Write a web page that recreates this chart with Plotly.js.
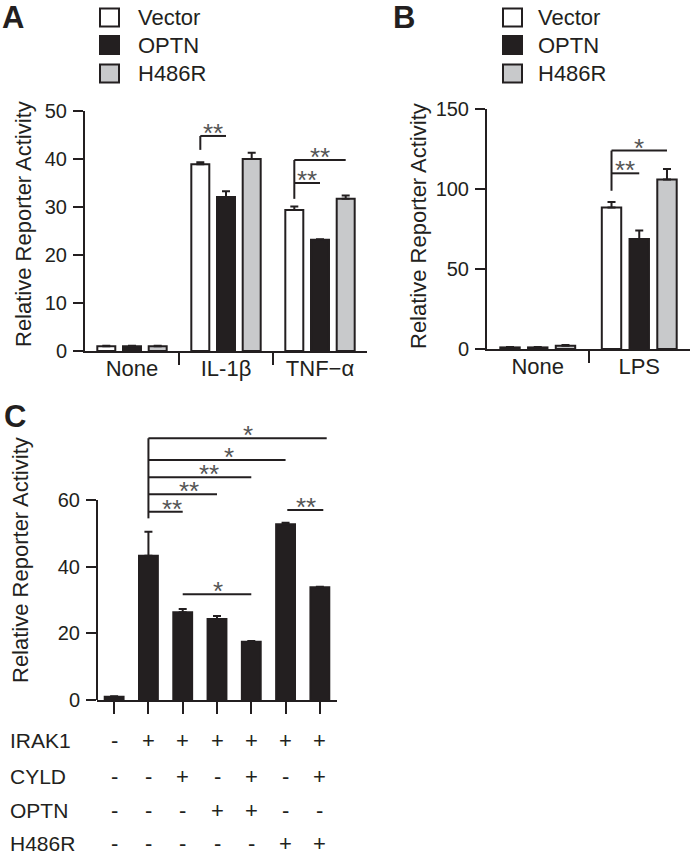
<!DOCTYPE html>
<html>
<head>
<meta charset="utf-8">
<script src="https://cdn.plot.ly/plotly-3.0.1.min.js"></script>
<style>
  body { margin: 0; background: #fff; }
  #chart { width: 693px; height: 858px; }
</style>
</head>
<body>
<div id="chart"></div>
<script>
// series shared by A and B
const seriesNames = ['Vector', 'OPTN', 'H486R'];
const seriesColors = ['#ffffff', '#231f20', '#c8c9cb'];

// panel A
const categoriesA = ['None', 'IL-1β', 'TNF−α'];
const vectorA = [1, 38.9, 29.4];
const vectorAErr = [0.1, 0.4, 0.7];
const optnA = [1, 32.1, 23.2];
const optnAErr = [0.1, 1.2, 0.1];
const h486rA = [1, 40.0, 31.7];
const h486rAErr = [0.1, 1.3, 0.7];

// panel B
const categoriesB = ['None', 'LPS'];
const vectorB = [1, 88.5];
const vectorBErr = [0.2, 3.4];
const optnB = [1, 68.7];
const optnBErr = [0.2, 5.3];
const h486rB = [2, 106];
const h486rBErr = [0.5, 6.5];

// panel C
const valuesC = [1, 43.3, 26.3, 24.3, 17.5, 52.7, 33.8];
const errC = [0.1, 7.2, 1.0, 0.9, 0.2, 0.5, 0.2];
const rowLabelsC = ['IRAK1', 'CYLD', 'OPTN', 'H486R'];
const irak1 = ['-', '+', '+', '+', '+', '+', '+'];
const cyld = ['-', '-', '+', '-', '+', '-', '+'];
const optn = ['-', '-', '-', '+', '+', '-', '-'];
const h486r = ['-', '-', '-', '-', '-', '+', '+'];

// significance brackets: [category, fromBar, toBar, y, label]
const sigA = [[1, 0, 1, 44.8, '**'], [2, 0, 1, 35, '**'], [2, 0, 2, 39.8, '**']];
// stems: [category, bar, yBottom, yTop]
const stemA = [[1, 0, 41.9, 44.8], [2, 0, 31.7, 39.8]];
const sigB = [[1, 0, 1, 109.8, '**'], [1, 0, 2, 124, '*']];
const stemB = [[1, 0, 98.9, 124]];
// panel C: [fromBar, toBar, y, label, labelX]
const sigC = [
  [1, 2, 56.5, '**', 1.69], [1, 3, 61.7, '**', 2.18], [1, 4, 66.8, '**', 2.77],
  [1, 5, 72, '*', 3.35], [1, 6.2, 78.5, '*', 3.91],
  [2, 4, 31.7, '*', 3.03], [5.05, 6.1, 57, '**', 5.6]
];
const stemC = [[1, 54.5, 78.5]];

const dark = '#231f20';
const font = 'Liberation Sans, Arial, sans-serif';
const W = 693, H = 858;
const px = v => v / W;
const py = v => 1 - v / H;

const bargap = 0.18;
const slot = (1 - bargap) / 3;
const barX = (cat, i) => cat + (i - 1) * slot;

function errBar(arr) {
  return {type: 'data', array: arr, arrayminus: arr.map(() => 0), symmetric: false,
    color: dark, thickness: 2, width: 4};
}

const data = [];
const seriesA = [[vectorA, vectorAErr], [optnA, optnAErr], [h486rA, h486rAErr]];
const seriesB = [[vectorB, vectorBErr], [optnB, optnBErr], [h486rB, h486rBErr]];
seriesA.forEach((s, i) => {
  data.push({
    type: 'bar', x: categoriesA.map((c, k) => k), y: s[0], name: seriesNames[i],
    marker: {color: seriesColors[i], line: {color: dark, width: 2}},
    error_y: errBar(s[1]), xaxis: 'x', yaxis: 'y', showlegend: false
  });
});
seriesB.forEach((s, i) => {
  data.push({
    type: 'bar', x: categoriesB.map((c, k) => k), y: s[0], name: seriesNames[i],
    marker: {color: seriesColors[i], line: {color: dark, width: 2}},
    error_y: errBar(s[1]), xaxis: 'x2', yaxis: 'y2', showlegend: false
  });
});
data.push({
  type: 'bar', x: valuesC.map((v, k) => k), y: valuesC, width: 0.55,
  marker: {color: dark, line: {color: dark, width: 2}},
  error_y: errBar(errC), xaxis: 'x3', yaxis: 'y3', showlegend: false
});

const shapes = [];
const annotations = [];
const lineStyle = {color: dark, width: 2};
const starFont = {family: font, size: 26, color: '#555'};
const starShift = -14;

function addSig(list, stems, xr, yr) {
  list.forEach(s => {
    const x0 = barX(s[0], s[1]), x1 = barX(s[0], s[2]);
    shapes.push({type: 'line', xref: xr, yref: yr, x0: x0, x1: x1, y0: s[3], y1: s[3], line: lineStyle});
    annotations.push({xref: xr, yref: yr, x: (x0 + x1) / 2, y: s[3], text: s[4], showarrow: false,
      yanchor: 'bottom', yshift: starShift, font: starFont});
  });
  stems.forEach(s => {
    const x = barX(s[0], s[1]);
    shapes.push({type: 'line', xref: xr, yref: yr, x0: x, x1: x, y0: s[2], y1: s[3], line: lineStyle});
  });
}
addSig(sigA, stemA, 'x', 'y');
addSig(sigB, stemB, 'x2', 'y2');
sigC.forEach(s => {
  shapes.push({type: 'line', xref: 'x3', yref: 'y3', x0: s[0], x1: s[1], y0: s[2], y1: s[2], line: lineStyle});
  annotations.push({xref: 'x3', yref: 'y3', x: s[4], y: s[2], text: s[3], showarrow: false,
    yanchor: 'bottom', yshift: starShift, font: starFont});
});
stemC.forEach(s => {
  shapes.push({type: 'line', xref: 'x3', yref: 'y3', x0: s[0], x1: s[0], y0: s[1], y1: s[2], line: lineStyle});
});
// y axis line of C stops at 60
shapes.push({type: 'line', xref: 'x3 domain', yref: 'y3', x0: 0, x1: 0, y0: 0, y1: 60, line: lineStyle});

// legends
const legendRows = [17.5, 45, 73.5];
[[100, 136], [503, 536]].forEach(pos => {
  seriesNames.forEach((n, i) => {
    shapes.push({type: 'rect', xref: 'paper', yref: 'paper',
      x0: px(pos[0]), x1: px(pos[0] + 19), y0: py(legendRows[i] - 9), y1: py(legendRows[i] + 9),
      fillcolor: seriesColors[i], line: {color: dark, width: 2}});
    annotations.push({xref: 'paper', yref: 'paper', x: px(pos[1]), y: py(legendRows[i]),
      xanchor: 'left', yanchor: 'middle', text: n, showarrow: false,
      font: {family: font, size: 22, color: dark}});
  });
});

// panel letters
[['A', 13, 18], ['B', 404, 17], ['C', 15, 416]].forEach(l => {
  annotations.push({xref: 'paper', yref: 'paper', x: px(l[1]), y: py(l[2]), text: '<b>' + l[0] + '</b>',
    showarrow: false, xanchor: 'center', yanchor: 'middle', font: {family: font, size: 31, color: dark}});
});

// y axis titles
const yTitle = 'Relative Reporter Activity';
[[23, 224], [418, 226], [20, 560]].forEach(t => {
  annotations.push({xref: 'paper', yref: 'paper', x: px(t[0]), y: py(t[1]), text: yTitle, textangle: -90,
    showarrow: false, xanchor: 'center', yanchor: 'middle', font: {family: font, size: 22, color: dark}});
});

// condition table under C
const rowY = [740, 776, 810, 843];
[irak1, cyld, optn, h486r].forEach((row, r) => {
  annotations.push({xref: 'paper', yref: 'paper', x: px(8), y: py(rowY[r]), xanchor: 'left', yanchor: 'middle',
    text: rowLabelsC[r], showarrow: false, font: {family: font, size: 21, color: dark}});
  row.forEach((sgn, k) => {
    annotations.push({xref: 'x3', yref: 'paper', x: k, y: py(rowY[r]), xanchor: 'center', yanchor: 'middle',
      text: sgn, showarrow: false, font: {family: font, size: 22, color: dark}});
  });
});

function yAxis(domain, range, dtick, extra) {
  return Object.assign({
    domain: domain, range: range, dtick: dtick, ticks: 'outside', ticklen: 10, tickwidth: 2,
    tickcolor: dark, showline: true, linewidth: 2, linecolor: dark, showgrid: false, zeroline: false,
    tickfont: {family: font, size: 20, color: dark}, ticklabelstandoff: 2
  }, extra || {});
}
function xAxis(domain, range, cats, minorVals, extra) {
  return Object.assign({
    domain: domain, range: range, tickvals: cats.map((c, k) => k), ticktext: cats,
    ticks: '', showline: true, linewidth: 2, linecolor: dark, showgrid: false, zeroline: false,
    tickfont: {family: font, size: 22, color: dark}, ticklabelstandoff: -3,
    minor: {tickvals: minorVals, ticks: 'outside', ticklen: 12, tickwidth: 2, tickcolor: dark, showgrid: false}
  }, extra || {});
}

const layout = {
  width: W, height: H,
  margin: {l: 0, r: 0, t: 0, b: 0},
  paper_bgcolor: '#fff', plot_bgcolor: '#fff',
  barmode: 'group', bargap: bargap, bargroupgap: 0.3,
  font: {family: font, color: dark},
  showlegend: false,
  xaxis: xAxis([px(85), px(367)], [-0.5, 2.5], categoriesA, [0.5, 1.5], {anchor: 'y'}),
  yaxis: yAxis([py(351), py(111)], [0, 50], 10, {anchor: 'x'}),
  xaxis2: xAxis([px(487), px(690)], [-0.5, 1.5], categoriesB, [0.5], {anchor: 'y2'}),
  yaxis2: yAxis([py(349), py(109)], [0, 150], 50, {anchor: 'x2'}),
  xaxis3: {
    domain: [px(97), px(337)], range: [-0.5, 6.5], anchor: 'y3',
    tickvals: valuesC.map((v, k) => k), showticklabels: false,
    ticks: 'outside', ticklen: 12, tickwidth: 2, tickcolor: dark,
    showline: true, linewidth: 2, linecolor: dark, showgrid: false, zeroline: false
  },
  yaxis3: yAxis([py(700), py(426.7)], [0, 82], null,
    {anchor: 'x3', tickvals: [0, 20, 40, 60], showline: false}),
  shapes: shapes,
  annotations: annotations
};

Plotly.newPlot('chart', data, layout, {displayModeBar: false, staticPlot: true});
</script>
</body>
</html>
